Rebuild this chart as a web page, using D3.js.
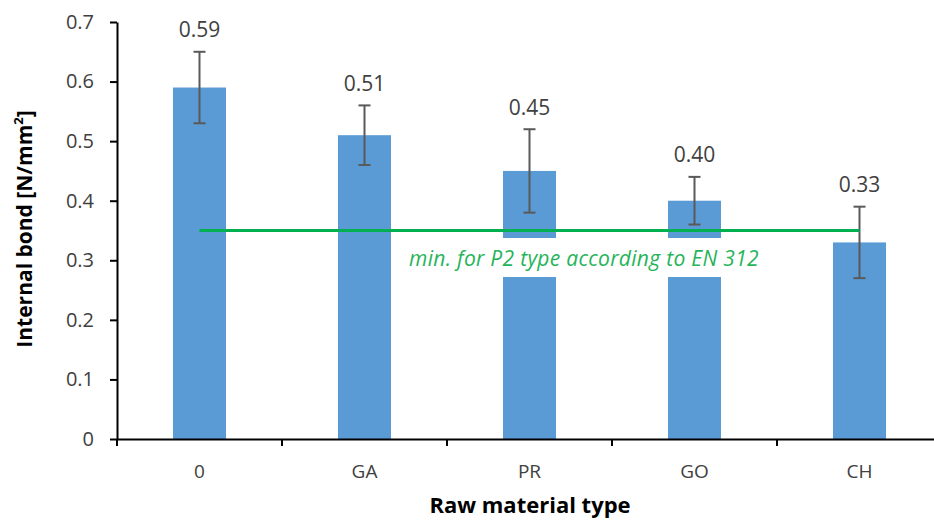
<!DOCTYPE html>
<html>
<head>
<meta charset="utf-8">
<script src="https://cdn.jsdelivr.net/npm/d3@7"></script>
<style>
  body { margin: 0; background: #fff; }
  svg { display: block; font-family: "Open Sans", "DejaVu Sans", sans-serif; }
</style>
</head>
<body>
<svg width="934" height="520"></svg>
<script>
  const categories = ["0", "GA", "PR", "GO", "CH"];
  const values = [0.59, 0.51, 0.45, 0.40, 0.33];
  const errLow = [0.53, 0.46, 0.38, 0.36, 0.27];
  const errHigh = [0.65, 0.56, 0.52, 0.44, 0.39];
  const yTicks = [0, 0.1, 0.2, 0.3, 0.4, 0.5, 0.6, 0.7];
  const minValue = 0.35;
  const minLabel = "min. for P2 type according to EN 312";

  const data = categories.map((c, i) => ({
    cat: c, v: values[i], lo: errLow[i], hi: errHigh[i]
  }));

  const svg = d3.select("svg");

  const x = d3.scaleBand()
    .domain(categories)
    .range([117, 942])
    .paddingInner(0.32)
    .paddingOuter(0.16);
  const step = x.step();

  const y = d3.scaleLinear()
    .domain([0, 0.7])
    .range([439, 22]);

  // bars
  svg.selectAll("rect.bar")
    .data(data)
    .enter().append("rect")
    .attr("class", "bar")
    .attr("x", d => x(d.cat) + x.bandwidth() / 2 - 26.5)
    .attr("width", 53)
    .attr("y", d => y(d.v))
    .attr("height", d => y(0) - y(d.v))
    .attr("fill", "#5b9bd5");

  // y axis
  const yAxis = svg.append("g")
    .attr("transform", "translate(117,0)")
    .call(d3.axisLeft(y).tickValues(yTicks).tickSize(7).tickSizeOuter(0)
      .tickFormat(d => d === 0 ? "0" : d3.format(".1f")(d)));
  yAxis.select(".domain").attr("stroke", "#000").attr("stroke-width", 2);
  yAxis.selectAll(".tick line").attr("stroke", "#000").attr("stroke-width", 2);
  yAxis.selectAll(".tick text")
    .attr("x", -23)
    .attr("font-size", 20)
    .attr("fill", "#404040")
    .attr("font-family", "Open Sans, sans-serif");

  // x axis
  const xAxis = svg.append("g")
    .attr("transform", `translate(0,${y(0)})`)
    .call(d3.axisBottom(x).tickSize(0).tickSizeOuter(0));
  xAxis.select(".domain").attr("stroke", "#000").attr("stroke-width", 2);
  xAxis.selectAll(".tick text")
    .attr("dy", null)
    .attr("y", 39)
    .attr("font-size", 19)
    .attr("fill", "#404040")
    .attr("font-family", "Open Sans, sans-serif");

  // category separator ticks
  const boundaries = d3.range(categories.length + 1).map(i => 117 + i * step);
  svg.selectAll("line.sep")
    .data(boundaries)
    .enter().append("line")
    .attr("x1", d => d).attr("x2", d => d)
    .attr("y1", y(0)).attr("y2", y(0) + 7)
    .attr("stroke", "#000")
    .attr("stroke-width", 2);

  // error bars
  const cx = d => x(d.cat) + x.bandwidth() / 2;
  const eb = svg.append("g").attr("stroke", "#595959").attr("stroke-width", 2);
  eb.selectAll("line.v")
    .data(data).enter().append("line")
    .attr("x1", cx).attr("x2", cx)
    .attr("y1", d => y(d.lo)).attr("y2", d => y(d.hi));
  eb.selectAll("line.t")
    .data(data).enter().append("line")
    .attr("x1", d => cx(d) - 6).attr("x2", d => cx(d) + 6)
    .attr("y1", d => y(d.hi)).attr("y2", d => y(d.hi));
  eb.selectAll("line.b")
    .data(data).enter().append("line")
    .attr("x1", d => cx(d) - 6).attr("x2", d => cx(d) + 6)
    .attr("y1", d => y(d.lo)).attr("y2", d => y(d.lo));

  // value labels
  svg.selectAll("text.val")
    .data(data).enter().append("text")
    .attr("x", cx)
    .attr("y", d => y(d.hi) - 14.5)
    .attr("text-anchor", "middle")
    .attr("font-size", 21)
    .attr("fill", "#404040")
    .text(d => d3.format(".2f")(d.v));

  // minimum line + label
  svg.append("line")
    .attr("x1", cx(data[0])).attr("x2", cx(data[data.length - 1]))
    .attr("y1", y(minValue)).attr("y2", y(minValue))
    .attr("stroke", "#00b050")
    .attr("stroke-width", 3);

  const lblG = svg.append("g");
  const bg = lblG.append("rect").attr("fill", "#fff");
  const lbl = lblG.append("text")
    .attr("x", 584)
    .attr("y", y(minValue) + 35)
    .attr("text-anchor", "middle")
    .attr("font-size", 21)
    .attr("letter-spacing", 0.3)
    .attr("font-style", "italic")
    .attr("fill", "#26b45a")
    .text(minLabel);
  const bb = lbl.node().getBBox();
  bg.attr("x", bb.x - 6).attr("width", bb.width + 12)
    .attr("y", y(minValue) + 7.5).attr("height", 39);

  // axis titles
  svg.append("text")
    .attr("transform", `translate(32,229) rotate(-90)`)
    .attr("text-anchor", "middle")
    .attr("font-size", 21)
    .attr("font-weight", "bold")
    .attr("fill", "#000")
    .html('Internal bond [N/mm<tspan baseline-shift="super" font-size="13">2</tspan>]');

  svg.append("text")
    .attr("x", 530)
    .attr("y", 513)
    .attr("text-anchor", "middle")
    .attr("font-size", 22)
    .attr("font-weight", "bold")
    .attr("fill", "#000")
    .text("Raw material type");
</script>
</body>
</html>
